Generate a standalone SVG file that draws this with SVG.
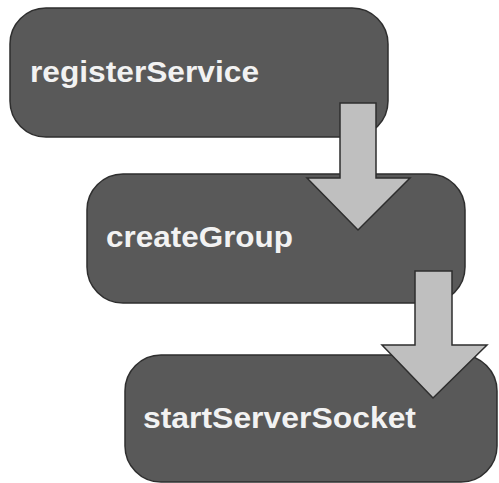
<svg xmlns="http://www.w3.org/2000/svg" width="499" height="483" viewBox="0 0 499 483">
<style>
.box{fill:#595959;stroke:#2e2e2e;stroke-width:1.5}
.lbl{fill:#f2f2f2;font-family:"Liberation Sans",Arial,sans-serif;font-weight:bold;font-size:30px}
.arr{fill:#bfbfbf;stroke:#2e2e2e;stroke-width:1.5;stroke-linejoin:miter}
</style>
<rect width="499" height="483" fill="#ffffff"/>
<g id="registerService">
<rect class="box" x="10" y="8" width="378" height="129" rx="36" ry="36"/>
<text class="lbl" x="30" y="82" textLength="229" lengthAdjust="spacingAndGlyphs">registerService</text>
</g>
<g id="createGroup">
<rect class="box" x="87" y="174" width="378" height="129" rx="36" ry="36"/>
<text class="lbl" x="106" y="247" textLength="187" lengthAdjust="spacingAndGlyphs">createGroup</text>
</g>
<g id="startServerSocket">
<rect class="box" x="125" y="355" width="372" height="127" rx="36" ry="36"/>
<text class="lbl" x="143" y="428" textLength="273" lengthAdjust="spacingAndGlyphs">startServerSocket</text>
</g>
<g id="connectors">
<polygon class="arr" points="340,103 376,103 376,178 410,178 358,230 307,178 340,178"/>
<polygon class="arr" points="415,271 452,271 452,345 487,345 433,398 382,345 415,345"/>
</g>
</svg>
